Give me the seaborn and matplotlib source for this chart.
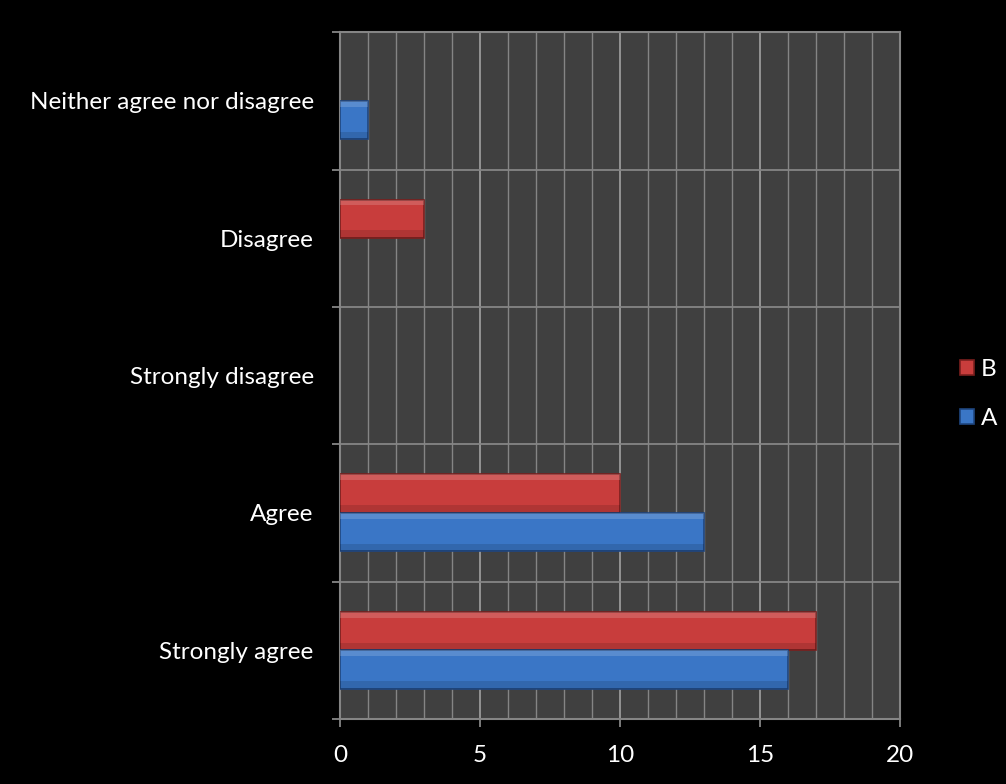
import pandas as pd
import numpy as np
import matplotlib.pyplot as plt
import seaborn as sns
from matplotlib.ticker import MultipleLocator, FixedLocator

categories = ["Neither agree nor disagree", "Disagree", "Strongly disagree", "Agree", "Strongly agree"]
values_a = [1, 0, 0, 13, 16]
values_b = [0, 3, 0, 10, 17]

df = pd.DataFrame({
    "response": categories * 2,
    "count": values_b + values_a,
    "group": ["B"] * len(categories) + ["A"] * len(categories),
})

sns.set_style("dark")
plt.rcParams['font.family'] = ['Lato', 'DejaVu Sans']

fig = plt.figure(figsize=(10.06, 7.84), dpi=100, facecolor="black")
ax = fig.add_axes([0.338, 0.083, 0.557, 0.876])
ax.set_facecolor("#404040")

palette = {"B": "#C83D3C", "A": "#3A76C6"}
edges = {"B": "#7a1f1e", "A": "#1f4680"}
sns.barplot(data=df, y="response", x="count", hue="group", hue_order=["B", "A"],
            order=categories, orient="h", palette=palette, width=0.56, saturation=1,
            linewidth=1.2, ax=ax, zorder=3)
for cont, g in zip(ax.containers, ["B", "A"]):
    for bar in cont:
        x0, y0 = bar.get_x(), bar.get_y()
        w, h = bar.get_width(), bar.get_height()
        if w <= 0:
            bar.set_visible(False)
            continue
        bar.set_edgecolor(edges[g])
        # bevel look: light strip on top, darker strip at the bottom
        ax.fill_between([x0, x0 + w], y0, y0 + h * 0.15,
                        color="white", alpha=0.16, lw=0, zorder=4)
        ax.fill_between([x0, x0 + w], y0 + h * 0.8, y0 + h,
                        color="black", alpha=0.12, lw=0, zorder=4)

ax.set_xlim(0, 20)
ax.set_ylim(len(categories) - 0.5, -0.5)

gc = "#858585"
ax.xaxis.set_major_locator(MultipleLocator(5))
ax.xaxis.set_minor_locator(MultipleLocator(1))
ax.yaxis.set_minor_locator(FixedLocator(np.arange(-0.5, len(categories), 1)))
ax.grid(True, which="major", axis="x", color="#9a9a9a", lw=1.3, zorder=0)
ax.grid(True, which="minor", axis="x", color=gc, lw=1.0, zorder=0)
ax.grid(True, which="minor", axis="y", color=gc, lw=1.3, zorder=0)
ax.grid(False, which="major", axis="y")
ax.set_axisbelow(True)

for s in ax.spines.values():
    s.set_visible(True)
    s.set_color(gc)
    s.set_linewidth(1.5)

ax.tick_params(axis="x", which="major", length=6, width=1.3, color=gc,
               labelcolor="white", labelsize=17.5, pad=13, bottom=True)
ax.tick_params(axis="x", which="minor", length=0)
ax.tick_params(axis="y", which="major", length=0, labelcolor="white", labelsize=17.5, pad=19)
ax.tick_params(axis="y", which="minor", length=6, width=1.3, color=gc, left=True)

ax.set_xlabel("")
ax.set_ylabel("")

leg = ax.legend(loc="center left", bbox_to_anchor=(0.933, 0.497), bbox_transform=fig.transFigure,
                frameon=False, fontsize=17.5, labelcolor="white", handlelength=0.55,
                handleheight=0.55, handletextpad=0.3, labelspacing=1.15)
for hnd, g in zip(leg.legend_handles, ["B", "A"]):
    hnd.set_edgecolor(edges[g])

fig.savefig("out.png", dpi=100, facecolor="black")
